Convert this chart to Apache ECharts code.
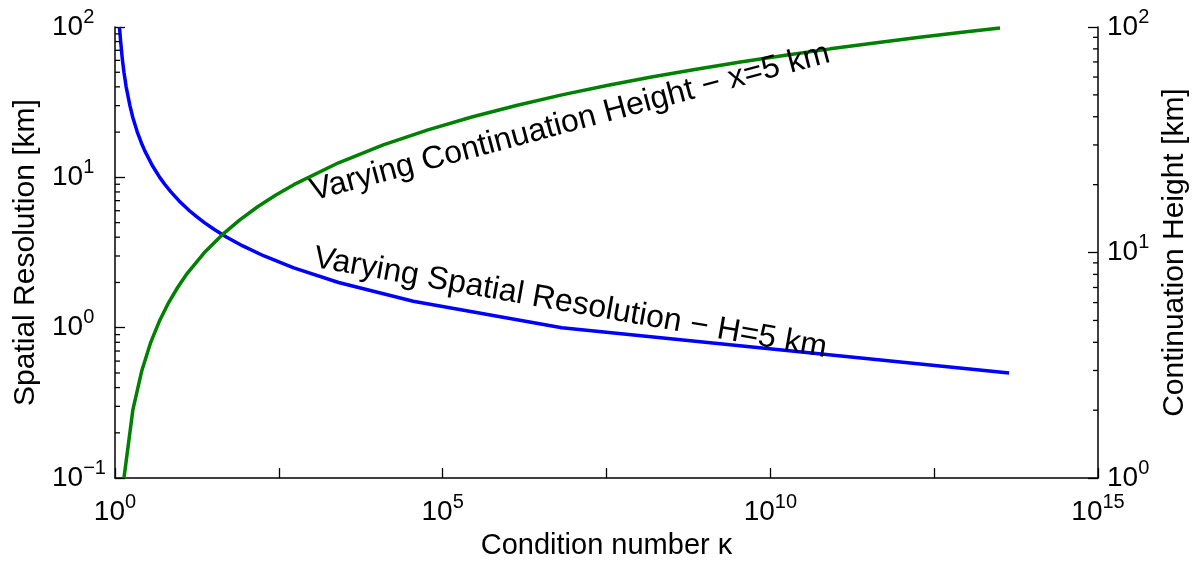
<!DOCTYPE html>
<html>
<head>
<meta charset="utf-8">
<script src="https://cdn.jsdelivr.net/npm/echarts@6/dist/echarts.min.js"></script>
<style>
  html, body { margin: 0; padding: 0; background: #fff; }
  #chart { width: 1199px; height: 565px; }
</style>
</head>
<body>
<div id="chart"></div>
<script>
// Spatial resolution (km) at fixed height H = 5 km, with its condition number
const spatialRes = [100, 80, 60, 50, 40, 30, 25, 20, 17, 15, 12, 10, 9, 8, 7, 6, 5.5, 5, 4.5, 4, 3.5, 3, 2.5, 2, 1.5, 1, 0.5];
const kappaForRes = [1.17, 1.22, 1.30, 1.37, 1.48, 1.69, 1.87, 2.19, 2.52, 2.85, 3.71, 4.81, 5.73, 7.13, 9.43, 13.7, 17.4, 23.1, 32.8, 50.8, 89.1, 188, 535, 2580, 3.55e4, 6.6e6, 4.4e13];

// Continuation height (km) at fixed resolution x = 5 km, with its condition number
const contHeight = [1, 2, 3, 4, 5, 6, 7, 8, 10, 12, 14, 16, 18, 20, 25, 30, 35, 40, 45, 50, 55, 60, 65, 70, 75, 80, 85, 90, 95, 99];
const kappaForHeight = [1.37, 1.87, 2.57, 3.51, 4.81, 6.59, 9.02, 12.3, 23.1, 43.4, 81.2, 152, 285, 535, 2580, 1.24e4, 5.97e4, 2.87e5, 1.38e6, 6.6e6, 3.2e7, 1.53e8, 7.4e8, 3.5e9, 1.7e10, 8.2e10, 3.9e11, 1.9e12, 9.1e12, 3.2e13];

// Minor tick positions for the two log y axes
const leftMinorTicks = [0.2, 0.3, 0.4, 0.5, 0.6, 0.7, 0.8, 0.9, 2, 3, 4, 5, 6, 7, 8, 9, 20, 30, 40, 50, 60, 70, 80, 90];
const rightMinorTicks = [2, 3, 4, 5, 6, 7, 8, 9, 20, 30, 40, 50, 60, 70, 80, 90];

const xMin = 1, xMax = 1e15;
const FONT = '"Liberation Sans", Arial, Helvetica, sans-serif';

function powerLabel(v) {
  const e = Math.round(Math.log10(v));
  const s = e < 0 ? '\u2212' + (-e) : String(e);
  return '{b|10}{s|' + s + '}';
}
const rich = {
  b: { fontSize: 28, fontFamily: FONT, color: '#000', lineHeight: 40, verticalAlign: 'middle' },
  s: { fontSize: 20, fontFamily: FONT, color: '#000', lineHeight: 20, verticalAlign: 'top' }
};

const chart = echarts.init(document.getElementById('chart'), null, { renderer: 'canvas' });

function minorTickSeries(ticks, yAxisIndex, xAt, dir) {
  return {
    type: 'custom',
    xAxisIndex: 0,
    yAxisIndex: yAxisIndex,
    silent: true,
    clip: false,
    z: 5,
    data: ticks.map(v => [xAt, v]),
    renderItem: function (params, api) {
      const p = api.coord([api.value(0), api.value(1)]);
      return {
        type: 'line',
        shape: { x1: p[0], y1: p[1], x2: p[0] + dir * 5, y2: p[1] },
        style: { stroke: '#000', lineWidth: 1.3 }
      };
    }
  };
}

chart.setOption({
  animation: false,
  backgroundColor: '#fff',
  grid: { left: 115, right: 101, top: 27, bottom: 85, containLabel: false },
  xAxis: {
    type: 'log',
    logBase: 10,
    min: xMin,
    max: xMax,
    interval: 2.5,
    name: 'Condition number \u03ba',
    nameLocation: 'middle',
    nameGap: 52,
    nameTextStyle: { fontSize: 29, fontFamily: FONT, color: '#000' },
    axisLine: { show: true, onZero: false, lineStyle: { color: '#000', width: 1.5 } },
    axisTick: { show: true, inside: true, length: 10, lineStyle: { color: '#000', width: 1.3 } },
    axisLabel: {
      interval: 0,
      margin: 14,
      showMinLabel: true,
      showMaxLabel: true,
      formatter: function (v) {
        const e = Math.log10(v);
        return Math.abs(e / 5 - Math.round(e / 5)) < 1e-6 ? powerLabel(v) : '';
      },
      rich: rich
    },
    splitLine: { show: false },
    minorTick: { show: false }
  },
  yAxis: [
    {
      type: 'log',
      logBase: 10,
      min: 0.1,
      max: 100,
      interval: 1,
      position: 'left',
      name: 'Spatial Resolution [km]',
      nameLocation: 'middle',
      nameGap: 73,
      nameTextStyle: { fontSize: 30, fontFamily: FONT, color: '#000' },
      axisLine: { show: true, onZero: false, lineStyle: { color: '#000', width: 1.5 } },
      axisTick: { show: true, inside: true, length: 10, lineStyle: { color: '#000', width: 1.3 } },
      axisLabel: { align: 'left', margin: 63, showMinLabel: true, showMaxLabel: true, formatter: powerLabel, rich: rich },
      splitLine: { show: false }
    },
    {
      type: 'log',
      logBase: 10,
      min: 1,
      max: 100,
      interval: 1,
      position: 'right',
      name: 'Continuation Height [km]',
      nameLocation: 'middle',
      nameGap: 62,
      nameRotate: 90,
      nameTextStyle: { fontSize: 30, fontFamily: FONT, color: '#000' },
      axisLine: { show: true, onZero: false, lineStyle: { color: '#000', width: 1.5 } },
      axisTick: { show: true, inside: true, length: 10, lineStyle: { color: '#000', width: 1.3 } },
      axisLabel: { align: 'left', margin: 9, showMinLabel: true, showMaxLabel: true, formatter: powerLabel, rich: rich },
      splitLine: { show: false }
    }
  ],
  series: [
    {
      name: 'Varying Spatial Resolution',
      type: 'line',
      xAxisIndex: 0,
      yAxisIndex: 0,
      showSymbol: false,
      symbol: 'none',
      smooth: false,
      lineStyle: { color: '#0000ff', width: 3.5 },
      data: spatialRes.map((r, i) => [kappaForRes[i], r]),
      z: 3
    },
    {
      name: 'Varying Continuation Height',
      type: 'line',
      xAxisIndex: 0,
      yAxisIndex: 1,
      showSymbol: false,
      symbol: 'none',
      smooth: false,
      lineStyle: { color: '#008000', width: 3.5 },
      data: contHeight.map((h, i) => [kappaForHeight[i], h]),
      z: 3
    },
    minorTickSeries(leftMinorTicks, 0, xMin, 1),
    minorTickSeries(rightMinorTicks, 1, xMax, -1)
  ],
  graphic: [
    {
      type: 'text',
      x: 311, y: 192,
      rotation: 15 * Math.PI / 180,
      z: 10,
      style: {
        text: 'Varying Continuation Height \u2212 x=5 km',
        fontSize: 32, fontFamily: FONT, fill: '#000',
        align: 'left', verticalAlign: 'middle',
        textAlign: 'left', textVerticalAlign: 'middle'
      }
    },
    {
      type: 'text',
      x: 314, y: 258,
      rotation: -10 * Math.PI / 180,
      z: 10,
      style: {
        text: 'Varying Spatial Resolution \u2212 H=5 km',
        fontSize: 32, fontFamily: FONT, fill: '#000',
        align: 'left', verticalAlign: 'middle',
        textAlign: 'left', textVerticalAlign: 'middle'
      }
    }
  ]
});
</script>
</body>
</html>
